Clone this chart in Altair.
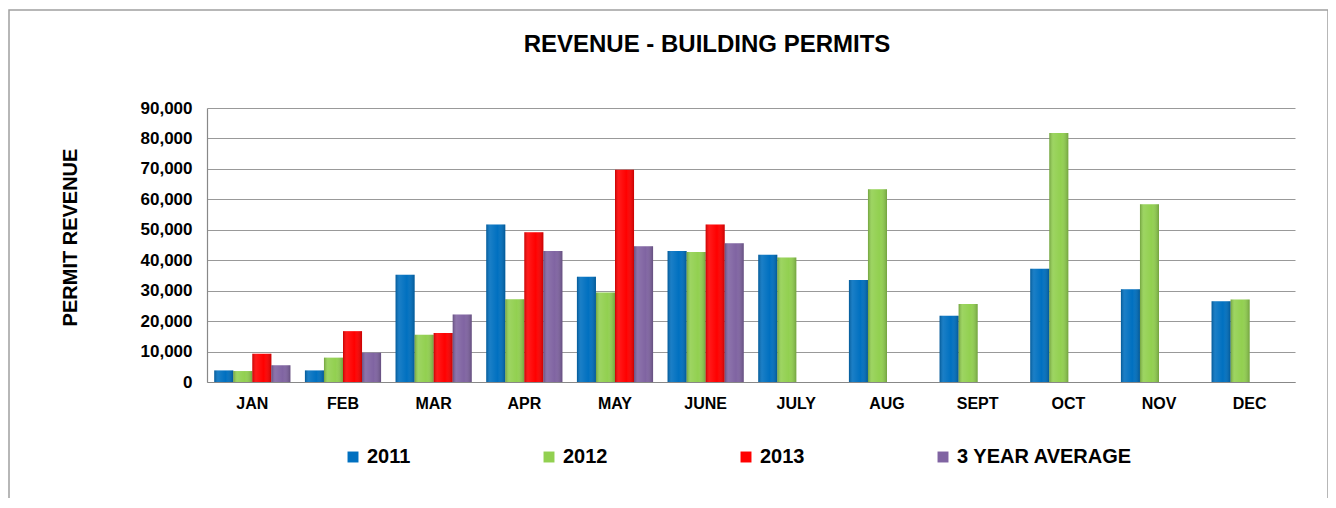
import altair as alt
import pandas as pd

months = ["JAN", "FEB", "MAR", "APR", "MAY", "JUNE", "JULY", "AUG", "SEPT", "OCT", "NOV", "DEC"]
series_names = ["2011", "2012", "2013", "3 YEAR AVERAGE"]
colors = ["#0070C0", "#92D050", "#FF0000", "#8064A2"]

rev_2011 = [3800, 3800, 35200, 51700, 34600, 43000, 41800, 33500, 21800, 37200, 30500, 26500]
rev_2012 = [3600, 8000, 15500, 27200, 29400, 42700, 40900, 63300, 25600, 81800, 58400, 27100]
rev_2013 = [9300, 16700, 16100, 49200, 69700, 51700, None, None, None, None, None, None]
rev_avg = [5500, 9600, 22200, 43000, 44600, 45600, None, None, None, None, None, None]

y_ticks = [0, 10000, 20000, 30000, 40000, 50000, 60000, 70000, 80000, 90000]

rows = []
for name, vals in zip(series_names, [rev_2011, rev_2012, rev_2013, rev_avg]):
    for m, v in zip(months, vals):
        if v is not None:
            rows.append({"month": m, "series": name, "value": v})
df = pd.DataFrame(rows)

FONT = "Liberation Sans, Arial, sans-serif"

W, H = 1088, 274

x_enc = alt.X("month:N", sort=months, scale=alt.Scale(paddingInner=0.16, paddingOuter=0.08),
              axis=alt.Axis(title=None, labelAngle=0, labelFont=FONT, labelFontSize=16,
                            labelFontWeight="bold", labelColor="#000000", labelPadding=13,
                            ticks=False, domainColor="#888888", domainWidth=1.2))
xoff_enc = alt.XOffset("series:N", sort=series_names,
                       scale=alt.Scale(domain=series_names, paddingInner=0, paddingOuter=0))
y_enc = alt.Y("value:Q", scale=alt.Scale(domain=[0, 90000], nice=False),
              axis=alt.Axis(title="PERMIT REVENUE", values=y_ticks,
                            format=",d", labelFont=FONT, labelFontSize=17, labelFontWeight="bold",
                            labelColor="#000000", labelPadding=15, ticks=False, labelOverlap=False,
                            domainColor="#888888", domainWidth=1.2,
                            gridColor="#999999", gridWidth=1.2,
                            titleFont=FONT, titleFontSize=20, titleFontWeight="bold",
                            titleColor="#000000", titleAngle=270, titleX=-137, titleY=129,
                            titleAlign="center", titleBaseline="middle"))

bars = alt.Chart(df).mark_bar(stroke=None).encode(
    x=x_enc,
    xOffset=xoff_enc,
    y=y_enc,
    color=alt.Color("series:N", sort=series_names,
                    scale=alt.Scale(domain=series_names, range=colors),
                    legend=alt.Legend(title=None, orient="none", legendX=136, legendY=339,
                                      direction="horizontal", columns=4, columnPadding=128,
                                      symbolType="square", symbolSize=120, symbolStrokeWidth=0,
                                      labelFont=FONT, labelFontSize=20, labelFontWeight="bold",
                                      labelColor="#000000", labelOffset=4, labelLimit=400)),
)

shade = alt.Chart(df).mark_bar(
    fill=alt.Gradient(
        gradient="linear", x1=0, x2=1, y1=0, y2=0,
        stops=[alt.GradientStop(color="rgba(0,0,0,0.22)", offset=0),
               alt.GradientStop(color="rgba(255,255,255,0.10)", offset=0.2),
               alt.GradientStop(color="rgba(255,255,255,0.0)", offset=0.6),
               alt.GradientStop(color="rgba(0,0,0,0.22)", offset=1)]),
    stroke=None,
).encode(x=x_enc, xOffset=xoff_enc, y=y_enc)

border = alt.Chart(pd.DataFrame({"a": [0]})).mark_rect(
    fill=None, stroke="#a0a0a0", strokeWidth=1.5
).encode(x=alt.value(-198), x2=alt.value(1121), y=alt.value(-98), y2=alt.value(440))

chart = alt.layer(border, bars, shade).properties(
    width=W, height=H,
    background="white",
    title=alt.TitleParams("REVENUE - BUILDING PERMITS", font=FONT, fontSize=24, fontWeight="bold",
                          color="#000000", anchor="middle", frame="group", dx=-44,
                          baseline="alphabetic", offset=-67),
    autosize=alt.AutoSizeParams(type="none"),
    padding={"left": 199, "top": 100, "right": 33, "bottom": 116},
).configure_view(stroke=None)

chart.save("out.html", embed_options={"renderer": "svg", "actions": False})
